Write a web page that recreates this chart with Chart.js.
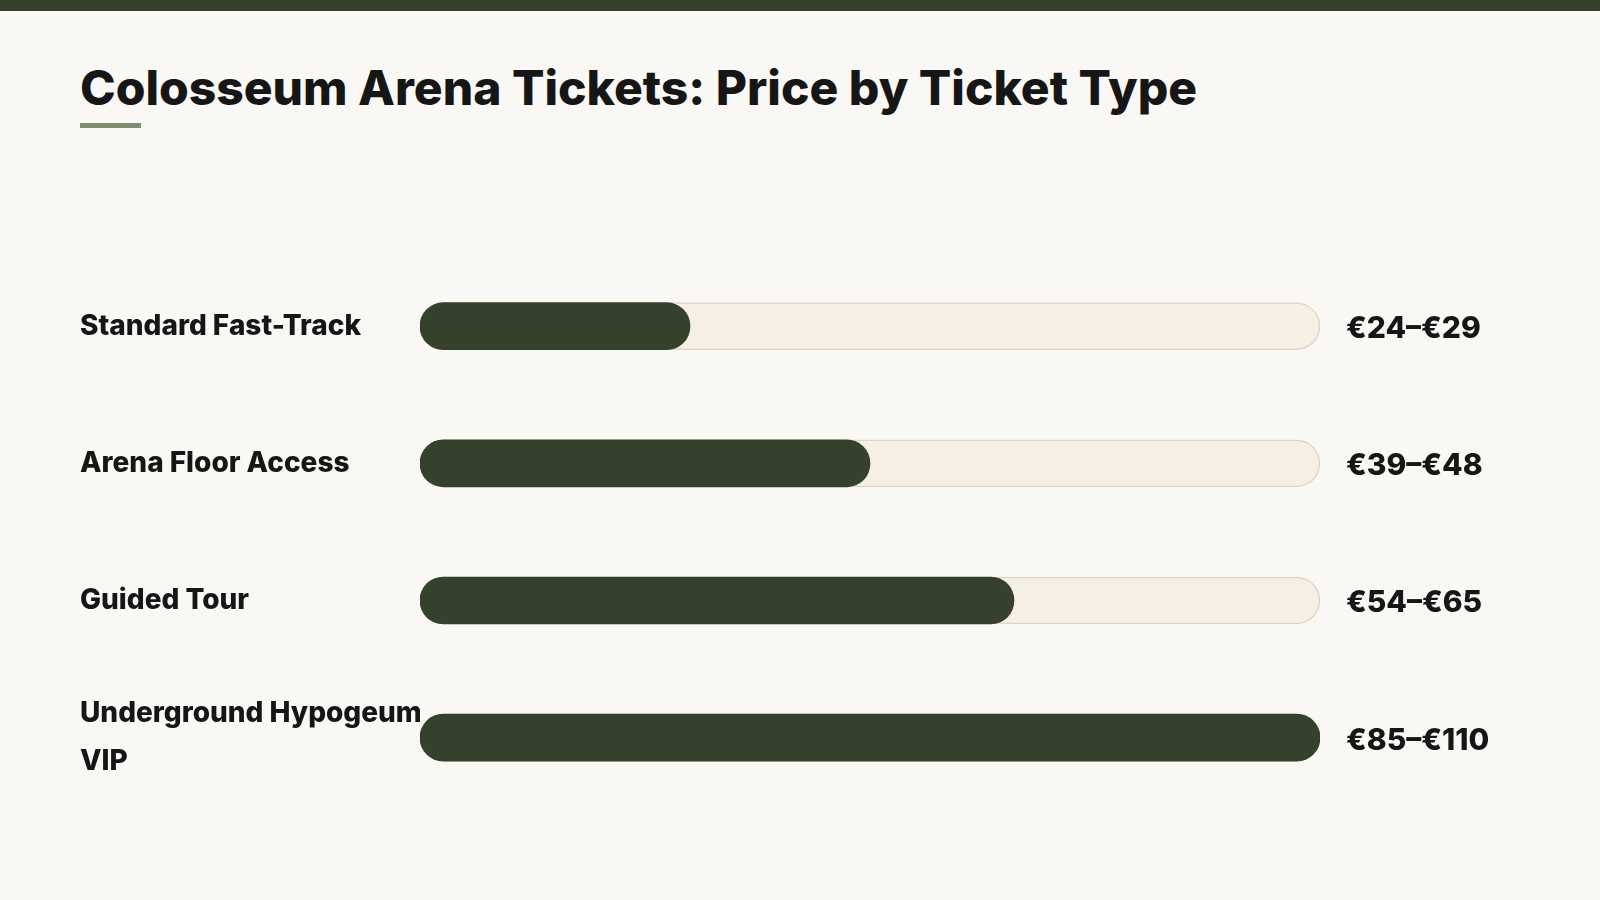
<!DOCTYPE html>
<html><head><meta charset="utf-8">
<script src="https://cdn.jsdelivr.net/npm/chart.js@4.4.0/dist/chart.umd.min.js"></script>
<style>
html,body{margin:0;padding:0;background:#f9f8f4;width:1600px;height:900px;overflow:hidden;font-family:Inter,"Open Sans",sans-serif}
#topbar{position:absolute;left:0;top:0;width:1600px;height:11px;background:#36412c}
h1{position:absolute;left:80px;top:58px;margin:0;font-size:48px;font-weight:800;color:#161616;letter-spacing:0px}
#ul{position:absolute;left:80px;top:123px;width:61px;height:5px;background:#7f8c6e}
#c{position:absolute;left:80px;top:210px;width:1440px;height:620px}
</style></head><body>
<div id="topbar"></div>
<h1>Colosseum Arena Tickets: Price by Ticket Type</h1>
<div id="ul"></div>
<canvas id="c" width="1440" height="620"></canvas>
<script>
const categories = ['Standard Fast-Track','Arena Floor Access','Guided Tour',['Underground Hypogeum','VIP']];
const priceLabels = ['€24–€29','€39–€48','€54–€65','€85–€110'];
const fillPercent = [30,50,66,100];
const trackPercent = [100,100,100,100];

const valueLabels = {
  id:'valueLabels',
  afterDatasetsDraw(chart){
    const ctx=chart.ctx, meta=chart.getDatasetMeta(1);
    ctx.save();
    ctx.font='800 30px Inter, sans-serif';ctx.fillStyle='#161616';
    ctx.textBaseline='middle';ctx.textAlign='left';
    meta.data.forEach((b,i)=>ctx.fillText(priceLabels[i],chart.chartArea.right+26,b.y+3));
    ctx.restore();
  }
};
new Chart(document.getElementById('c'),{
  type:'bar',
  data:{labels:categories,datasets:[
    {data:fillPercent,backgroundColor:'#36412c',borderRadius:24,borderSkipped:false,barThickness:47,grouped:false,order:0},
    {data:trackPercent,backgroundColor:'#f5efe4',borderColor:'#ddd6c6',borderWidth:1.5,borderRadius:24,borderSkipped:false,barThickness:47,grouped:false,order:1}
  ]},
  options:{
    indexAxis:'y',responsive:false,devicePixelRatio:1,animation:false,
    layout:{padding:{right:200,top:0,bottom:0}},
    plugins:{legend:{display:false},tooltip:{enabled:false}},
    scales:{
      x:{min:0,max:100,display:false},
      y:{grid:{display:false},border:{display:false},
        afterFit(s){s.width=340;},
        ticks:{crossAlign:'far',padding:0,color:'#161616',font:{family:'Inter',weight:'800',size:28,lineHeight:1.7}}}
    }
  },
  plugins:[valueLabels]
});
</script>
</body></html>
